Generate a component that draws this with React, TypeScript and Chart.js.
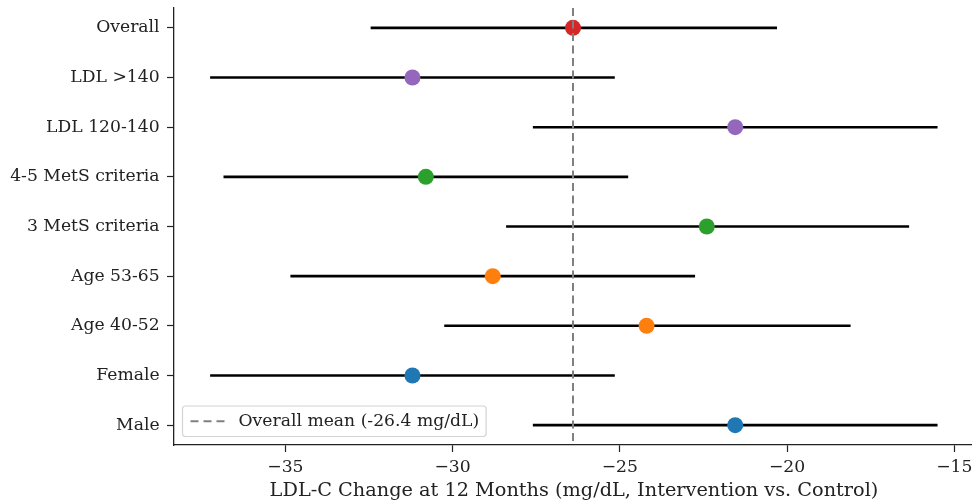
import React, { useEffect, useRef } from "react";
import { Chart, registerables } from "chart.js";

Chart.register(...registerables);

const categories = [
  "Overall",
  "LDL >140",
  "LDL 120-140",
  "4-5 MetS criteria",
  "3 MetS criteria",
  "Age 53-65",
  "Age 40-52",
  "Female",
  "Male",
];
const estimates = [-26.4, -31.2, -21.55, -30.8, -22.4, -28.8, -24.2, -31.2, -21.55];
const lowerCI = [-32.45, -37.25, -27.6, -36.85, -28.4, -34.85, -30.25, -37.25, -27.6];
const upperCI = [-20.3, -25.15, -15.5, -24.75, -16.35, -22.75, -18.1, -25.15, -15.5];
const pointColors = [
  "#d62728",
  "#9467bd",
  "#9467bd",
  "#2ca02c",
  "#2ca02c",
  "#ff7f0e",
  "#ff7f0e",
  "#1f77b4",
  "#1f77b4",
];
const overallMean = -26.4;
const legendLabel = "Overall mean (-26.4 mg/dL)";
const xTicks = [-35, -30, -25, -20, -15];
const xTitle = "LDL-C Change at 12 Months (mg/dL, Intervention vs. Control)";

const FONT = "'DejaVu Serif', serif";
const CANVAS_W = 1010;
const CANVAS_H = 503;
const TICK_SIZE = 17.2;

const legendPlugin = {
  id: "boxLegend",
  afterDraw(chart: any) {
    const ctx = chart.ctx;
    const area = chart.chartArea;
    const x0 = area.left + 8.5;
    const y1 = area.bottom - 8.5;
    const h = 30.5;
    ctx.save();
    ctx.font = `${TICK_SIZE}px ${FONT}`;
    const tw = ctx.measureText(legendLabel).width;
    const w = 56 + tw + 7;
    const y0 = y1 - h;
    const r = 3;
    ctx.beginPath();
    ctx.moveTo(x0 + r, y0);
    ctx.lineTo(x0 + w - r, y0);
    ctx.arcTo(x0 + w, y0, x0 + w, y0 + r, r);
    ctx.lineTo(x0 + w, y1 - r);
    ctx.arcTo(x0 + w, y1, x0 + w - r, y1, r);
    ctx.lineTo(x0 + r, y1);
    ctx.arcTo(x0, y1, x0, y1 - r, r);
    ctx.lineTo(x0, y0 + r);
    ctx.arcTo(x0, y0, x0 + r, y0, r);
    ctx.closePath();
    ctx.fillStyle = "rgba(255,255,255,0.85)";
    ctx.fill();
    ctx.strokeStyle = "#d4d4d4";
    ctx.lineWidth = 1.2;
    ctx.stroke();
    const cy = (y0 + y1) / 2;
    ctx.beginPath();
    ctx.setLineDash([8, 5]);
    ctx.strokeStyle = "#808080";
    ctx.lineWidth = 2;
    ctx.moveTo(x0 + 8, cy);
    ctx.lineTo(x0 + 43, cy);
    ctx.stroke();
    ctx.setLineDash([]);
    ctx.fillStyle = "#222";
    ctx.textBaseline = "middle";
    ctx.textAlign = "left";
    ctx.fillText(legendLabel, x0 + 56, cy + 0.5);
    ctx.restore();
  },
};

export default function App() {
  const ref = useRef<HTMLCanvasElement>(null);

  useEffect(() => {
    if (!ref.current) return;
    const n = categories.length;
    const errorSets = categories.map((c, i) => ({
      type: "line" as const,
      label: c + " CI",
      data: [
        { x: lowerCI[i], y: i },
        { x: upperCI[i], y: i },
      ],
      borderColor: "#000",
      borderWidth: 2.6,
      pointRadius: 0,
      order: 3,
    }));
    const chart = new Chart(ref.current, {
      type: "scatter",
      data: {
        datasets: [
          ...errorSets,
          {
            type: "scatter" as const,
            label: "Estimates",
            data: estimates.map((v, i) => ({ x: v, y: i })),
            backgroundColor: pointColors,
            borderColor: pointColors,
            borderWidth: 0,
            pointRadius: 8,
            order: 2,
          },
          {
            type: "line" as const,
            label: legendLabel,
            data: [
              { x: overallMean, y: -0.4 },
              { x: overallMean, y: n - 1 + 0.4 },
            ],
            borderColor: "#808080",
            borderWidth: 2,
            borderDash: [8, 4.5],
            pointRadius: 0,
            order: 1,
          },
        ] as any,
      },
      options: {
        animation: false,
        responsive: false,
        devicePixelRatio: 1,
        layout: { padding: { left: 0, top: 7, right: CANVAS_W - 974, bottom: 0 } },
        plugins: {
          legend: { display: false },
          tooltip: { enabled: false },
        },
        scales: {
          x: {
            type: "linear",
            min: -38.33,
            max: -14.41,
            afterBuildTicks: (scale: any) => {
              scale.ticks = xTicks.map((v) => ({ value: v }));
            },
            afterFit: (scale: any) => {
              scale.height = CANVAS_H - 445;
              scale.paddingLeft = 0;
              scale.paddingRight = 0;
            },
            ticks: {
              color: "#222",
              font: { family: FONT, size: TICK_SIZE },
              padding: 5,
              maxRotation: 0,
              callback: (v: any) => String(v).replace("-", "\u2212"),
            },
            grid: {
              display: true,
              drawOnChartArea: false,
              drawTicks: true,
              tickLength: 7,
              tickColor: "#222",
              tickWidth: 1.2,
            },
            border: { display: true, color: "#222", width: 1.3 },
            title: {
              display: true,
              text: xTitle,
              color: "#222",
              font: { family: FONT, size: 19.3 },
              padding: { top: 0, bottom: 0 },
            },
          },
          y: {
            type: "linear",
            reverse: true,
            min: -0.4,
            max: n - 1 + 0.4,
            afterBuildTicks: (scale: any) => {
              scale.ticks = categories.map((_, i) => ({ value: i }));
            },
            afterFit: (scale: any) => {
              scale.width = 174;
              scale.paddingTop = 0;
              scale.paddingBottom = 0;
            },
            ticks: {
              color: "#222",
              font: { family: FONT, size: TICK_SIZE },
              padding: 7.4,
              callback: (v: any) => categories[v as number] ?? "",
            },
            grid: {
              display: true,
              drawOnChartArea: false,
              drawTicks: true,
              tickLength: 7,
              tickColor: "#222",
              tickWidth: 1.2,
            },
            border: { display: true, color: "#222", width: 1.3 },
          },
        },
      },
      plugins: [legendPlugin],
    });
    return () => chart.destroy();
  }, []);

  return (
    <div
      style={{
        position: "fixed",
        left: 0,
        top: 0,
        width: 972,
        height: 503,
        overflow: "hidden",
        background: "#fff",
      }}
    >
      <canvas
        ref={ref}
        width={CANVAS_W}
        height={CANVAS_H}
        style={{ position: "absolute", left: 0, top: 0, width: CANVAS_W, height: CANVAS_H }}
      />
    </div>
  );
}
